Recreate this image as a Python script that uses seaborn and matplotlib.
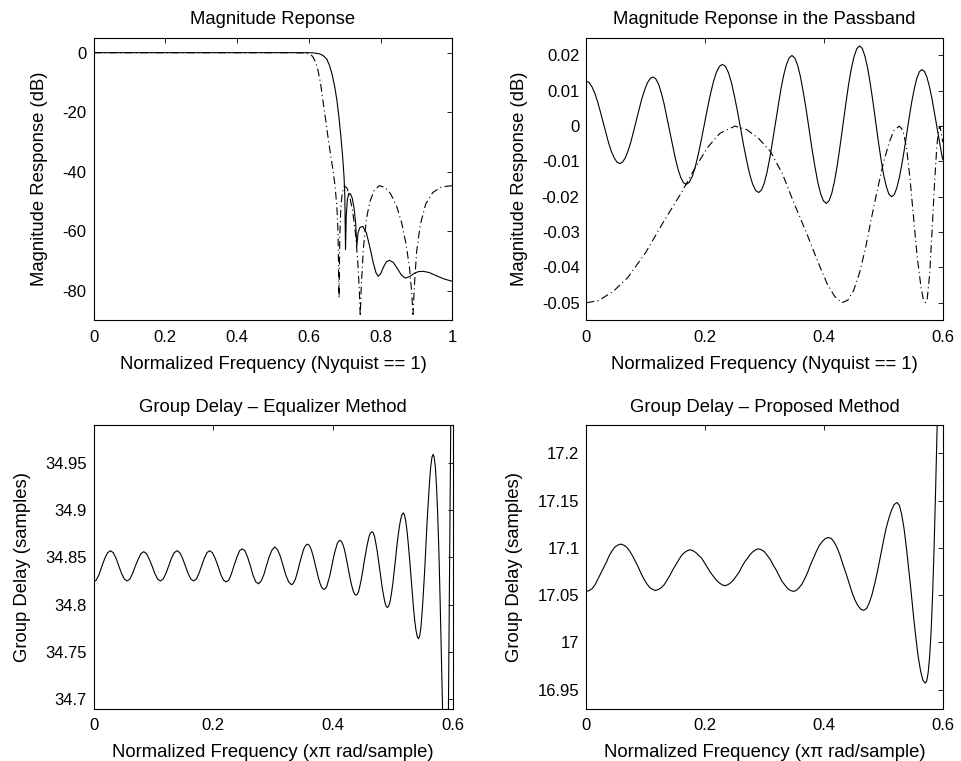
import matplotlib
matplotlib.use("Agg")
import matplotlib.pyplot as plt
import seaborn as sns

# ---------------- data ----------------
# Top-left: magnitude response (dB) vs normalized frequency (Nyquist == 1)
tl_x_solid = [0.000, 0.300, 0.580, 0.600, 0.615, 0.630, 0.640, 0.650, 0.658, 0.665,
              0.672, 0.678, 0.684, 0.689, 0.694, 0.698, 0.700, 0.702, 0.704, 0.707,
              0.711, 0.716, 0.721, 0.726, 0.730, 0.7335, 0.737, 0.742, 0.750, 0.760,
              0.770, 0.780, 0.787, 0.793, 0.800, 0.808, 0.816, 0.824, 0.835, 0.846,
              0.858, 0.869, 0.880, 0.893, 0.905, 0.918, 0.935, 0.955, 0.975, 1.000]
tl_y_solid = [0.0, 0.0, 0.0, 0.0, -0.1, -0.4, -1.0, -2.2, -4.5, -7.5,
              -11.5, -16.0, -22.0, -28.0, -35.0, -42.0, -48.0, -66.2, -55.0, -49.5,
              -47.3, -47.5, -49.0, -52.5, -57.0, -65.0, -60.5, -58.8, -58.4, -60.5,
              -65.5, -71.0, -74.0, -75.2, -74.3, -72.0, -70.3, -69.8, -70.5, -72.5,
              -74.8, -75.8, -75.3, -74.2, -73.6, -73.5, -73.9, -75.0, -76.0, -76.9]
tl_x_dash = [0.000, 0.300, 0.560, 0.585, 0.600, 0.610, 0.618, 0.625, 0.632, 0.639,
             0.646, 0.653, 0.660, 0.667, 0.673, 0.678, 0.681, 0.684, 0.686, 0.689,
             0.693, 0.699, 0.706, 0.714, 0.722, 0.730, 0.736, 0.7405, 0.743, 0.746,
             0.752, 0.760, 0.770, 0.782, 0.796, 0.812, 0.828, 0.844, 0.858, 0.870,
             0.880, 0.886, 0.890, 0.894, 0.900, 0.910, 0.925, 0.945, 0.970, 1.000]
tl_y_dash = [0.0, 0.0, 0.0, -0.1, -0.4, -1.2, -3.0, -5.8, -10.0, -16.0,
             -22.0, -28.2, -34.0, -39.4, -45.0, -52.0, -60.0, -82.5, -62.0, -52.0,
             -47.0, -44.8, -45.5, -48.5, -53.5, -61.0, -70.0, -80.0, -88.6, -78.0,
             -65.5, -56.0, -50.0, -46.3, -44.7, -45.3, -47.5, -51.5, -57.0, -64.0,
             -72.0, -80.0, -88.0, -78.0, -67.0, -58.0, -51.0, -47.0, -45.1, -44.7]

# Top-right: passband detail
tr_x_solid = [
    0.0000, 0.0047, 0.0093, 0.0140, 0.0187, 0.0233, 0.0280, 0.0327, 0.0373, 0.0420, 0.0467, 0.0513,
    0.0560, 0.0607, 0.0653, 0.0700, 0.0747, 0.0793, 0.0840, 0.0887, 0.0933, 0.0980, 0.1027, 0.1073,
    0.1120, 0.1167, 0.1213, 0.1260, 0.1307, 0.1353, 0.1400, 0.1447, 0.1493, 0.1540, 0.1587, 0.1633,
    0.1680, 0.1731, 0.1782, 0.1833, 0.1883, 0.1934, 0.1985, 0.2036, 0.2087, 0.2137, 0.2188, 0.2239,
    0.2290, 0.2341, 0.2392, 0.2443, 0.2493, 0.2544, 0.2595, 0.2646, 0.2697, 0.2747, 0.2798, 0.2849,
    0.2900, 0.2947, 0.2993, 0.3040, 0.3087, 0.3133, 0.3180, 0.3227, 0.3273, 0.3320, 0.3367, 0.3413,
    0.3460, 0.3508, 0.3557, 0.3605, 0.3653, 0.3702, 0.3750, 0.3798, 0.3847, 0.3895, 0.3943, 0.3992,
    0.4040, 0.4087, 0.4133, 0.4180, 0.4227, 0.4273, 0.4320, 0.4367, 0.4413, 0.4460, 0.4507, 0.4553,
    0.4600, 0.4645, 0.4690, 0.4735, 0.4780, 0.4825, 0.4870, 0.4915, 0.4960, 0.5005, 0.5050, 0.5095,
    0.5140, 0.5183, 0.5225, 0.5268, 0.5310, 0.5353, 0.5395, 0.5438, 0.5480, 0.5523, 0.5565, 0.5608,
    0.5650, 0.5692, 0.5733, 0.5775, 0.5817, 0.5858, 0.5900, 0.5942, 0.5983, 0.6000]
tr_y_solid = [
    0.0127, 0.0123, 0.0111, 0.0093, 0.0069, 0.0041, 0.0011, -0.0020, -0.0048, -0.0072, -0.0090, -0.0102,
    -0.0106, -0.0102, -0.0090, -0.0070, -0.0045, -0.0015, 0.0017, 0.0048, 0.0078, 0.0103, 0.0123, 0.0135,
    0.0139, 0.0134, 0.0119, 0.0094, 0.0063, 0.0026, -0.0013, -0.0052, -0.0089, -0.0121, -0.0145, -0.0160,
    -0.0165, -0.0159, -0.0142, -0.0115, -0.0080, -0.0039, 0.0005, 0.0049, 0.0090, 0.0125, 0.0152, 0.0169,
    0.0175, 0.0169, 0.0151, 0.0122, 0.0084, 0.0041, -0.0007, -0.0054, -0.0097, -0.0135, -0.0164, -0.0182,
    -0.0188, -0.0181, -0.0162, -0.0131, -0.0091, -0.0044, 0.0006, 0.0056, 0.0103, 0.0143, 0.0174, 0.0193,
    0.0200, 0.0193, 0.0172, 0.0139, 0.0095, 0.0045, -0.0010, -0.0064, -0.0114, -0.0158, -0.0191, -0.0212,
    -0.0219, -0.0211, -0.0189, -0.0154, -0.0108, -0.0054, 0.0004, 0.0062, 0.0116, 0.0162, 0.0197, 0.0219,
    0.0227, 0.0220, 0.0198, 0.0165, 0.0120, 0.0069, 0.0014, -0.0042, -0.0093, -0.0138, -0.0171, -0.0193,
    -0.0200, -0.0194, -0.0176, -0.0147, -0.0110, -0.0067, -0.0020, 0.0027, 0.0070, 0.0107, 0.0136, 0.0154,
    0.0160, 0.0155, 0.0139, 0.0113, 0.0080, 0.0041, 0.0000, -0.0041, -0.0080, -0.0094]
tr_x_dash = [0.000, 0.020, 0.045, 0.070, 0.100, 0.130, 0.160, 0.185, 0.205, 0.225,
             0.250, 0.270, 0.290, 0.310, 0.330, 0.350, 0.370, 0.390, 0.405, 0.418,
             0.430, 0.440, 0.450, 0.460, 0.470, 0.480, 0.490, 0.500, 0.510, 0.518,
             0.527, 0.533, 0.539, 0.545, 0.551, 0.557, 0.563, 0.567, 0.571, 0.574,
             0.578, 0.582, 0.586, 0.590, 0.593, 0.5955, 0.600]
tr_y_dash = [-0.0500, -0.0494, -0.0468, -0.0428, -0.0357, -0.0270, -0.0188, -0.0112, -0.0058, -0.0020,
             0.0000, -0.0010, -0.0035, -0.0072, -0.0135, -0.0220, -0.0300, -0.0385, -0.0445, -0.0482,
             -0.0500, -0.0493, -0.0465, -0.0415, -0.0345, -0.0260, -0.0180, -0.0105, -0.0045, -0.0012,
             0.0000, -0.0012, -0.0060, -0.0150, -0.0260, -0.0370, -0.0450, -0.0488, -0.0500, -0.0488,
             -0.0420, -0.0300, -0.0170, -0.0060, -0.0010, 0.0000, -0.0045]

# Bottom-left: group delay, equalizer method
bl_x = [0.0000, 0.0047, 0.0094, 0.0142, 0.0189, 0.0236,
        0.0283, 0.0329, 0.0376, 0.0422, 0.0468, 0.0515,
        0.0561, 0.0607, 0.0653, 0.0700, 0.0746, 0.0792,
        0.0838, 0.0884, 0.0931, 0.0977, 0.1023, 0.1070,
        0.1116, 0.1162, 0.1209, 0.1255, 0.1301, 0.1348,
        0.1394, 0.1440, 0.1486, 0.1533, 0.1579, 0.1625,
        0.1671, 0.1716, 0.1760, 0.1805, 0.1849, 0.1894,
        0.1938, 0.1984, 0.2030, 0.2077, 0.2123, 0.2169,
        0.2215, 0.2260, 0.2304, 0.2349, 0.2393, 0.2438,
        0.2482, 0.2527, 0.2573, 0.2618, 0.2663, 0.2709,
        0.2754, 0.2799, 0.2845, 0.2890, 0.2935, 0.2981,
        0.3026, 0.3072, 0.3119, 0.3165, 0.3211, 0.3258,
        0.3304, 0.3326, 0.3348, 0.3370, 0.3393, 0.3415, 0.3437, 0.3459, 0.3481, 0.3504, 0.3526, 0.3548,
        0.3570, 0.3593, 0.3616, 0.3640, 0.3663, 0.3686, 0.3709, 0.3732, 0.3755, 0.3778, 0.3802, 0.3825,
        0.3848, 0.3870, 0.3892, 0.3915, 0.3937, 0.3959, 0.3981, 0.4003, 0.4025, 0.4048, 0.4070, 0.4092,
        0.4114, 0.4136, 0.4159, 0.4181, 0.4203, 0.4225, 0.4248, 0.4270, 0.4292, 0.4314, 0.4337, 0.4359,
        0.4381, 0.4403, 0.4425, 0.4447, 0.4470, 0.4492, 0.4514, 0.4536, 0.4558, 0.4581, 0.4603, 0.4625,
        0.4647, 0.4669, 0.4691, 0.4712, 0.4734, 0.4756, 0.4778, 0.4799, 0.4821, 0.4843, 0.4865, 0.4886,
        0.4908, 0.4930, 0.4952, 0.4973, 0.4995, 0.5017, 0.5039, 0.5060, 0.5082, 0.5104, 0.5126, 0.5147,
        0.5169, 0.5190, 0.5212, 0.5233, 0.5254, 0.5276, 0.5297, 0.5318, 0.5340, 0.5361, 0.5382, 0.5404,
        0.5425, 0.5445, 0.5466, 0.5486, 0.5506, 0.5527, 0.5547, 0.5567, 0.5588, 0.5608, 0.5628, 0.5649,
        0.5669, 0.5685, 0.5705, 0.5725, 0.5745, 0.5765, 0.5785, 0.5815, 0.5850, 0.5885, 0.5920,
        0.5945, 0.5970, 0.6000]
bl_y = [34.824, 34.826, 34.832, 34.841, 34.849, 34.855,
        34.857, 34.855, 34.849, 34.841, 34.833, 34.827,
        34.825, 34.827, 34.833, 34.841, 34.848, 34.854,
        34.856, 34.854, 34.848, 34.841, 34.833, 34.827,
        34.825, 34.827, 34.833, 34.841, 34.849, 34.855,
        34.857, 34.855, 34.849, 34.841, 34.833, 34.827,
        34.825, 34.827, 34.833, 34.841, 34.849, 34.855,
        34.857, 34.855, 34.849, 34.841, 34.832, 34.826,
        34.824, 34.826, 34.833, 34.842, 34.850, 34.857,
        34.859, 34.857, 34.850, 34.841, 34.831, 34.824,
        34.822, 34.825, 34.832, 34.842, 34.851, 34.858,
        34.861, 34.858, 34.851, 34.841, 34.831, 34.824,
        34.821, 34.822, 34.824, 34.827, 34.832, 34.837, 34.843, 34.848, 34.853, 34.858, 34.861, 34.863,
        34.864, 34.863, 34.861, 34.857, 34.852, 34.846, 34.840, 34.834, 34.828, 34.823, 34.819, 34.817,
        34.816, 34.817, 34.819, 34.824, 34.829, 34.835, 34.842, 34.849, 34.855, 34.860, 34.865, 34.867,
        34.868, 34.867, 34.864, 34.860, 34.854, 34.847, 34.839, 34.832, 34.825, 34.819, 34.814, 34.811,
        34.810, 34.811, 34.814, 34.820, 34.827, 34.835, 34.844, 34.852, 34.860, 34.867, 34.873, 34.876,
        34.877, 34.876, 34.872, 34.865, 34.857, 34.847, 34.837, 34.827, 34.817, 34.809, 34.802, 34.798,
        34.797, 34.799, 34.804, 34.812, 34.822, 34.834, 34.847, 34.860, 34.872, 34.882, 34.890, 34.895,
        34.897, 34.895, 34.888, 34.878, 34.864, 34.848, 34.831, 34.813, 34.797, 34.783, 34.773, 34.766,
        34.764, 34.767, 34.777, 34.793, 34.813, 34.836, 34.862, 34.887, 34.910, 34.930, 34.946, 34.956,
        34.959, 34.956, 34.946, 34.925, 34.895, 34.855, 34.805, 34.720, 34.620, 34.560, 34.660,
        34.850, 35.050, 35.300]

# Bottom-right: group delay, proposed method
br_x = [0.0000, 0.0048, 0.0096, 0.0144, 0.0192, 0.0240, 0.0288, 0.0336, 0.0384, 0.0432, 0.0480, 0.0528,
        0.0576, 0.0625, 0.0674, 0.0723, 0.0772, 0.0821, 0.0870, 0.0919, 0.0968, 0.1017, 0.1066, 0.1115,
        0.1164, 0.1212, 0.1261, 0.1309, 0.1358, 0.1406, 0.1455, 0.1503, 0.1551, 0.1600, 0.1648, 0.1697,
        0.1745, 0.1794, 0.1843, 0.1892, 0.1941, 0.1990, 0.2039, 0.2088, 0.2137, 0.2186, 0.2235, 0.2284,
        0.2333, 0.2380, 0.2427, 0.2474, 0.2521, 0.2568, 0.2616, 0.2663, 0.2710, 0.2757, 0.2804, 0.2851,
        0.2898, 0.2947, 0.2996, 0.3045, 0.3094, 0.3143, 0.3192, 0.3240, 0.3289, 0.3338, 0.3387, 0.3436,
        0.3485, 0.3534, 0.3583, 0.3632, 0.3681, 0.3730, 0.3779, 0.3828, 0.3877, 0.3926, 0.3975, 0.4024,
        0.4073, 0.4123, 0.4173, 0.4222, 0.4272, 0.4322, 0.4372, 0.4422, 0.4472, 0.4521, 0.4571, 0.4621,
        0.4671, 0.4718, 0.4764, 0.4811, 0.4858, 0.4904, 0.4951, 0.4998, 0.5044, 0.5091, 0.5138, 0.5184,
        0.5231, 0.5271, 0.5310, 0.5350, 0.5389, 0.5429, 0.5469, 0.5508, 0.5548, 0.5587, 0.5627, 0.5666,
        0.5706, 0.5730, 0.5755, 0.5780, 0.5805, 0.5830, 0.5855, 0.5880, 0.5905, 0.5930]
br_y = [17.054, 17.055, 17.057, 17.061, 17.067, 17.073, 17.079, 17.085, 17.092, 17.097, 17.101, 17.103,
        17.104, 17.103, 17.101, 17.097, 17.092, 17.086, 17.080, 17.073, 17.067, 17.062, 17.058, 17.056,
        17.055, 17.056, 17.058, 17.061, 17.066, 17.071, 17.077, 17.082, 17.087, 17.092, 17.095, 17.097,
        17.098, 17.097, 17.095, 17.092, 17.089, 17.084, 17.079, 17.074, 17.070, 17.066, 17.063, 17.061,
        17.060, 17.061, 17.063, 17.066, 17.070, 17.074, 17.080, 17.085, 17.089, 17.093, 17.096, 17.098,
        17.099, 17.098, 17.096, 17.092, 17.088, 17.082, 17.077, 17.071, 17.065, 17.061, 17.057, 17.055,
        17.054, 17.055, 17.058, 17.062, 17.068, 17.075, 17.083, 17.090, 17.097, 17.103, 17.107, 17.110,
        17.111, 17.110, 17.106, 17.100, 17.092, 17.082, 17.073, 17.063, 17.053, 17.045, 17.039, 17.035,
        17.034, 17.036, 17.042, 17.051, 17.063, 17.076, 17.091, 17.106, 17.120, 17.131, 17.140, 17.146,
        17.148, 17.145, 17.135, 17.120, 17.100, 17.077, 17.053, 17.028, 17.005, 16.985, 16.970, 16.960,
        16.957, 16.959, 16.968, 16.985, 17.012, 17.050, 17.100, 17.160, 17.225, 17.290]

# tick values / labels
tl_xticks = [0, 0.2, 0.4, 0.6, 0.8, 1]
tl_xticklabels = ["0", "0.2", "0.4", "0.6", "0.8", "1"]
tl_yticks = [0, -20, -40, -60, -80]
tl_yticklabels = ["0", "-20", "-40", "-60", "-80"]
f6_xticks = [0, 0.2, 0.4, 0.6]
f6_xticklabels = ["0", "0.2", "0.4", "0.6"]
tr_yticks = [0.02, 0.01, 0, -0.01, -0.02, -0.03, -0.04, -0.05]
tr_yticklabels = ["0.02", "0.01", "0", "-0.01", "-0.02", "-0.03", "-0.04", "-0.05"]
bl_yticks = [34.7, 34.75, 34.8, 34.85, 34.9, 34.95]
bl_yticklabels = ["34.7", "34.75", "34.8", "34.85", "34.9", "34.95"]
br_yticks = [16.95, 17.0, 17.05, 17.1, 17.15, 17.2]
br_yticklabels = ["16.95", "17", "17.05", "17.1", "17.15", "17.2"]

# ---------------- styling ----------------
sns.set_style("white")
plt.rcParams['font.family'] = ['Liberation Sans', 'DejaVu Sans']
plt.rcParams['axes.unicode_minus'] = False

W, H = 962, 761
fig = plt.figure(figsize=(W / 100, H / 100), dpi=100)
fig.patch.set_facecolor("white")


def add_axes(l, t, r, b):
    return fig.add_axes([l / W, 1 - b / H, (r - l) / W, (b - t) / H])


ax1 = add_axes(93.5, 37.8, 452.5, 320.4)
ax2 = add_axes(586.5, 37.8, 942.7, 320.4)
ax3 = add_axes(93.5, 425.0, 453.0, 708.6)
ax4 = add_axes(586.5, 425.0, 942.7, 708.6)

DASHDOT = (0, (7.0, 3.0, 1.0, 3.0))
LW = 0.8


def draw(ax, x, y, ls="-"):
    sns.lineplot(x=x, y=y, ax=ax, color="black", linewidth=LW, linestyle=ls,
                 estimator=None, sort=False)


draw(ax1, tl_x_dash, tl_y_dash, DASHDOT)
draw(ax1, tl_x_solid, tl_y_solid)
draw(ax2, tr_x_dash, tr_y_dash, DASHDOT)
draw(ax2, tr_x_solid, tr_y_solid)
draw(ax3, bl_x, bl_y)
draw(ax4, br_x, br_y)

TFS = 13.3
LFS = 13.3
KFS = 12

ax1.set_xlim(0, 1)
ax1.set_ylim(-90, 5)
ax1.set_xticks(tl_xticks, tl_xticklabels)
ax1.set_yticks(tl_yticks, tl_yticklabels)

ax2.set_xlim(0, 0.6)
ax2.set_ylim(-0.055, 0.025)
ax2.set_xticks(f6_xticks, f6_xticklabels)
ax2.set_yticks(tr_yticks, tr_yticklabels)

ax3.set_xlim(0, 0.6)
ax3.set_ylim(34.69, 34.99)
ax3.set_xticks(f6_xticks, f6_xticklabels)
ax3.set_yticks(bl_yticks, bl_yticklabels)

ax4.set_xlim(0, 0.6)
ax4.set_ylim(16.93, 17.23)
ax4.set_xticks(f6_xticks, f6_xticklabels)
ax4.set_yticks(br_yticks, br_yticklabels)

titles = ["Magnitude Reponse", "Magnitude Reponse in the Passband",
          "Group Delay \u2013 Equalizer Method", "Group Delay \u2013 Proposed Method"]
xlabels = ["Normalized Frequency (Nyquist == 1)", "Normalized Frequency (Nyquist == 1)",
           "Normalized Frequency (x\u03c0 rad/sample)", "Normalized Frequency (x\u03c0 rad/sample)"]
ylabels = ["Magnitude Response (dB)", "Magnitude Response (dB)",
           "Group Delay (samples)", "Group Delay (samples)"]
title_pads = [10, 10, 9.5, 9.5]
label_pads = [8, 8, 7.5, 7.5]
ylabel_x = [-0.127, -0.164, -0.174, -0.178]

for ax, t, xl, yl, tp, lp, yx in zip([ax1, ax2, ax3, ax4], titles, xlabels, ylabels,
                                      title_pads, label_pads, ylabel_x):
    ax.set_title(t, fontsize=TFS, pad=tp, color="black")
    ax.set_xlabel(xl, fontsize=LFS, labelpad=lp, color="black")
    ax.set_ylabel(yl, fontsize=LFS, color="black")
    ax.yaxis.set_label_coords(yx, 0.5)
    ax.tick_params(axis="both", which="major", direction="in", length=3.6, width=0.6,
                   top=True, right=True, labelsize=KFS, colors="black")
    ax.tick_params(axis="x", pad=7.0)
    ax.tick_params(axis="y", pad=5.0)
    for s in ax.spines.values():
        s.set_visible(True)
        s.set_linewidth(0.8)
        s.set_color("black")
    ax.set_facecolor("white")

fig.savefig("out.png", dpi=100, facecolor="white")
